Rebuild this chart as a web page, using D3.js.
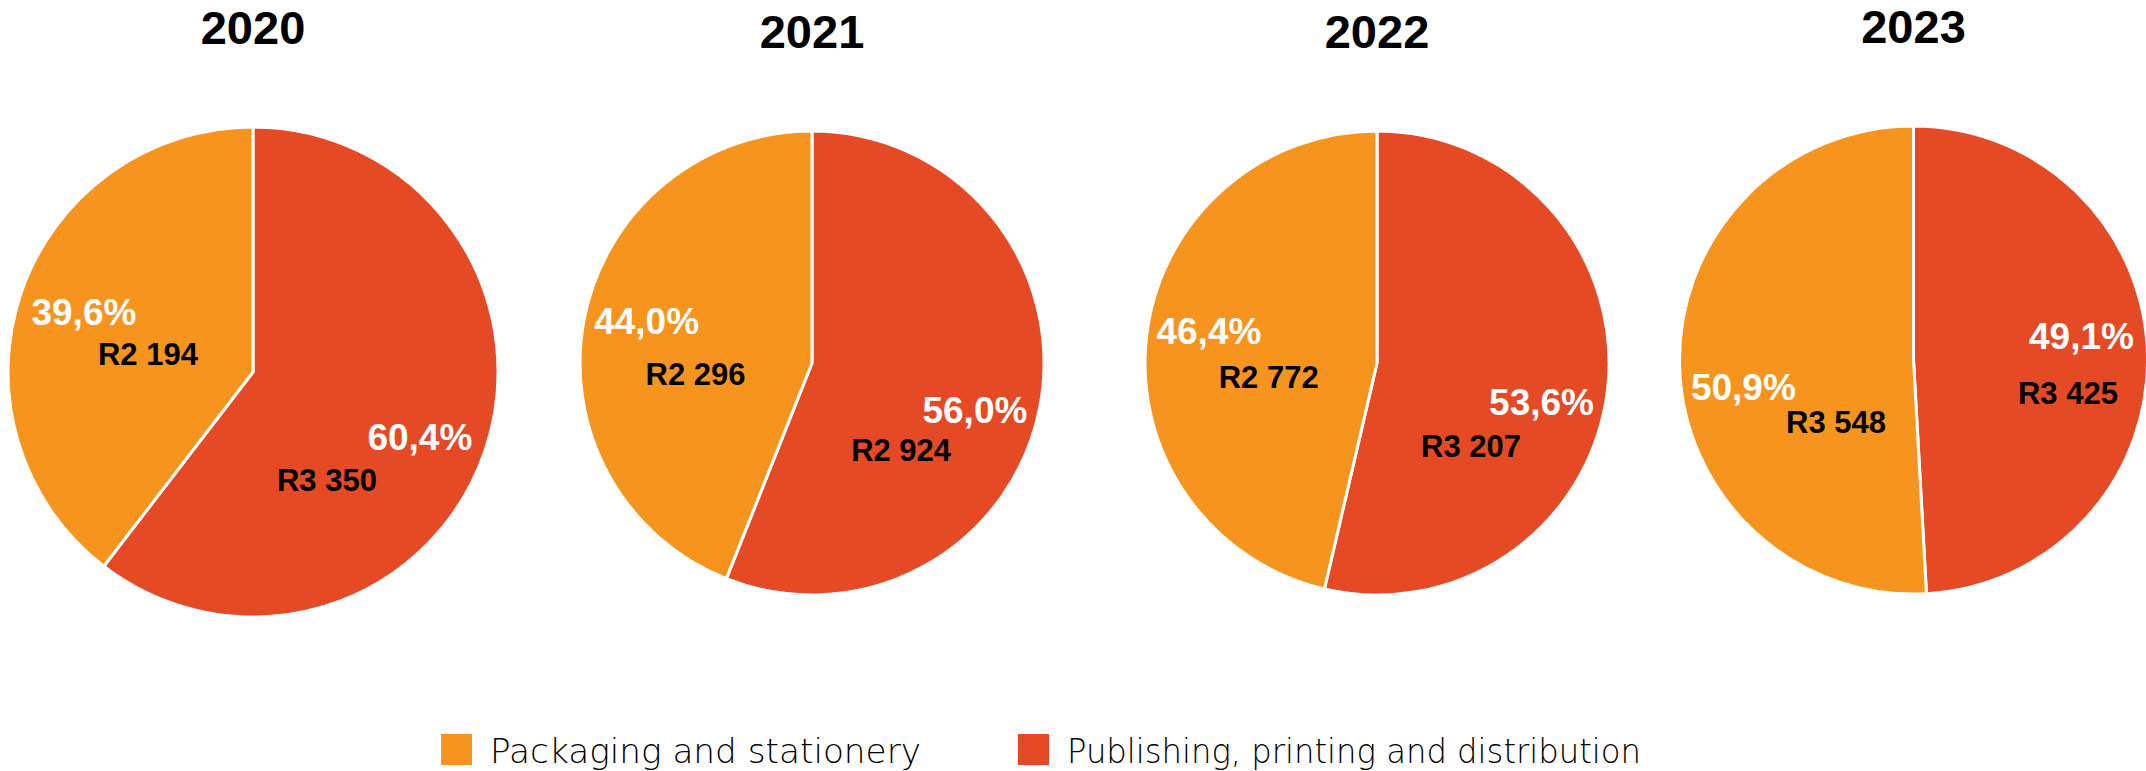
<!DOCTYPE html>
<html>
<head>
<meta charset="utf-8">
<script src="https://cdn.jsdelivr.net/npm/d3@7"></script>
<style>
  html, body { margin: 0; padding: 0; background: #ffffff; }
  svg { display: block; }
</style>
</head>
<body>
<svg id="chart" width="2146" height="771"></svg>
<script>
// ---------------- DATA ----------------
const years = ["2020", "2021", "2022", "2023"];
const categories = ["Packaging and stationery", "Publishing, printing and distribution"];
const packaging  = [2194, 2296, 2772, 3548];   // R million
const publishing = [3350, 2924, 3207, 3425];   // R million

// ---------------- LAYOUT (not data) ----------------
const W = 2146, H = 771;
const pieCx = [253, 812, 1377, 1913.5];
const pieCy = [372, 363, 363, 360];
const pieR  = [245, 232, 232, 234];
// label placement: [angle offset from slice mid-angle (deg), radius fraction]
// order per pie: [publishing slice, packaging slice]
const pctPlace = [
  [[2.5, 0.731], [0.7, 0.732]],
  [[5.3, 0.731], [3.6, 0.736]],
  [[6.8, 0.729], [4.4, 0.738]],
  [[-6.5, 0.725], [-7.4, 0.736]]
];
const valPlace = [
  [[36.8, 0.534], [-9.1, 0.435]],
  [[33.5, 0.537], [-16.2, 0.504]],
  [[34.7, 0.539], [-13.9, 0.471]],
  [[13.7, 0.675], [-37.1, 0.424]]
];
const colors = { pack: "#F7941E", pub: "#E64A25" };
const font = "'Liberation Sans', Arial, sans-serif";
const legendFont = "'DejaVu Sans', 'Liberation Sans', sans-serif";

const svg = d3.select("#chart");
svg.append("rect").attr("width", W).attr("height", H).attr("fill", "#fff");

const color = d3.scaleOrdinal().domain(categories).range([colors.pack, colors.pub]);
const pie = d3.pie().sort(null).value(d => d.value);
const fmtPct = v => d3.format(".1f")(v * 100).replace(".", ",") + "%";
const fmtVal = v => "R" + d3.format(",")(v).replace(/,/g, " ");
const rad = deg => deg * Math.PI / 180;

const pctSize = 37, valSize = 31, titleSize = 47;

years.forEach((yr, i) => {
  const slices = [
    { cat: categories[1], value: publishing[i] },
    { cat: categories[0], value: packaging[i] }
  ];
  const total = d3.sum(slices, d => d.value);
  const arcs = pie(slices);
  const r = pieR[i];
  const arc = d3.arc().innerRadius(0).outerRadius(r);

  const g = svg.append("g").attr("transform", `translate(${pieCx[i]},${pieCy[i]})`);

  g.selectAll("path.slice")
    .data(arcs)
    .join("path")
    .attr("class", "slice")
    .attr("d", arc)
    .attr("fill", d => color(d.data.cat))
    .attr("stroke", "#ffffff")
    .attr("stroke-width", 3)
    .attr("stroke-linejoin", "round");

  // title
  svg.append("text")
    .attr("x", pieCx[i])
    .attr("y", pieCy[i] - r - 83)
    .attr("text-anchor", "middle")
    .attr("font-family", font)
    .attr("font-weight", "bold")
    .attr("font-size", titleSize)
    .attr("fill", "#000")
    .text(yr);

  arcs.forEach((a, j) => {
    const mid = (a.startAngle + a.endAngle) / 2;
    const pp = pctPlace[i][j];
    const [px, py] = d3.pointRadial(mid + rad(pp[0]), r * pp[1]);
    g.append("text")
      .attr("x", px)
      .attr("y", py + pctSize * 0.358)
      .attr("text-anchor", "middle")
      .attr("font-family", font)
      .attr("font-weight", "bold")
      .attr("font-size", pctSize)
      .attr("fill", "#ffffff")
      .text(fmtPct(a.data.value / total));

    const vp = valPlace[i][j];
    const [vx, vy] = d3.pointRadial(mid + rad(vp[0]), r * vp[1]);
    g.append("text")
      .attr("x", vx)
      .attr("y", vy + valSize * 0.358)
      .attr("text-anchor", "middle")
      .attr("font-family", font)
      .attr("font-weight", "bold")
      .attr("font-size", valSize)
      .attr("fill", "#000")
      .text(fmtVal(a.data.value));
  });
});

// ---------------- LEGEND ----------------
const legendX = [441, 1018];
const legendTextW = [431, 574];
const legend = svg.append("g");
categories.forEach((c, k) => {
  const lg = legend.append("g").attr("transform", `translate(${legendX[k]},734)`);
  lg.append("rect").attr("width", 31).attr("height", 31).attr("fill", color(c));
  lg.append("text")
    .attr("x", 49)
    .attr("y", 29)
    .attr("font-family", legendFont)
    .attr("font-size", 34)
    .attr("font-weight", 300)
    .attr("textLength", legendTextW[k])
    .attr("lengthAdjust", "spacingAndGlyphs")
    .attr("fill", "#000")
    .text(c);
});
</script>
</body>
</html>
